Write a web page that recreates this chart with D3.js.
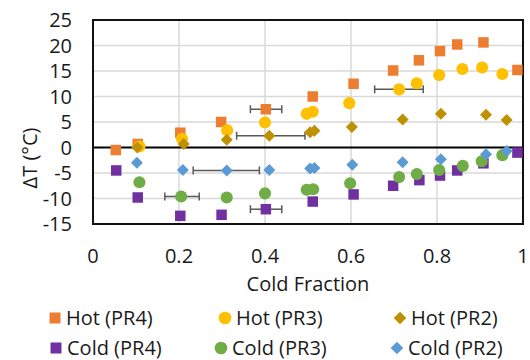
<!DOCTYPE html>
<html>
<head>
<meta charset="utf-8">
<script src="https://cdn.jsdelivr.net/npm/d3@7"></script>
<style>
  body { margin: 0; background: #fff; }
  text { font-family: "Open Sans", "Noto Sans", sans-serif; fill: #1a1a1a; }
</style>
</head>
<body>
<div id="grafico"></div>
<script>
// series: [cold fraction, delta T]
const hotPR4 = [[0.053,-0.5],[0.104,0.7],[0.203,2.9],[0.298,5.0],[0.402,7.5],[0.511,10.0],[0.606,12.5],[0.698,15.1],[0.758,17.1],[0.807,18.9],[0.847,20.2],[0.908,20.6],[0.987,15.2]];
const hotPR3 = [[0.108,0.2],[0.207,1.7],[0.312,3.4],[0.400,4.9],[0.497,6.6],[0.511,7.0],[0.596,8.7],[0.712,11.4],[0.753,12.6],[0.805,14.2],[0.859,15.4],[0.905,15.7],[0.952,14.4]];
const hotPR2 = [[0.103,0.0],[0.211,0.7],[0.311,1.5],[0.410,2.3],[0.505,3.0],[0.515,3.3],[0.602,4.0],[0.720,5.5],[0.809,6.6],[0.914,6.4],[0.962,5.4]];
const coldPR4 = [[0.054,-4.5],[0.104,-9.8],[0.203,-13.4],[0.299,-13.2],[0.402,-12.1],[0.511,-10.6],[0.606,-9.2],[0.698,-7.5],[0.759,-6.4],[0.807,-5.5],[0.847,-4.5],[0.908,-3.1],[0.987,-1.0]];
const coldPR3 = [[0.108,-6.8],[0.205,-9.6],[0.311,-9.8],[0.400,-9.0],[0.497,-8.3],[0.512,-8.2],[0.598,-7.0],[0.712,-5.8],[0.753,-5.2],[0.805,-4.4],[0.860,-3.6],[0.904,-2.7],[0.952,-1.5]];
const coldPR2 = [[0.102,-3.0],[0.209,-4.4],[0.311,-4.5],[0.410,-4.4],[0.505,-4.1],[0.515,-4.0],[0.603,-3.4],[0.720,-2.9],[0.809,-2.3],[0.914,-1.3],[0.962,-0.7]];

// horizontal error bars: [x, y, minus, plus]
const barrasErro = [[0.402,7.5,0.036,0.037],[0.402,-12.1,0.036,0.037],[0.410,2.3,0.076,0.083],[0.311,-4.5,0.078,0.076],[0.205,-9.6,0.038,0.042],[0.712,11.4,0.057,0.056]];

const xTicks = [0, 0.2, 0.4, 0.6, 0.8, 1];
const yTicks = [-15, -10, -5, 0, 5, 10, 15, 20, 25];

const series = [
  { nome: "Hot (PR4)", dados: hotPR4, cor: "#ED7D31", forma: "square" },
  { nome: "Hot (PR3)", dados: hotPR3, cor: "#FFC000", forma: "circle" },
  { nome: "Hot (PR2)", dados: hotPR2, cor: "#BF9000", forma: "diamond" },
  { nome: "Cold (PR4)", dados: coldPR4, cor: "#7030A0", forma: "square" },
  { nome: "Cold (PR3)", dados: coldPR3, cor: "#70AD47", forma: "circle" },
  { nome: "Cold (PR2)", dados: coldPR2, cor: "#5B9BD5", forma: "diamond" }
];

const largura = 530, altura = 360;
const m = { left: 93, right: 523, top: 20, bottom: 224 };

const svg = d3.select("#grafico").append("svg")
  .attr("width", largura).attr("height", altura);

const x = d3.scaleLinear().domain([0, 1]).range([m.left, m.right]);
const y = d3.scaleLinear().domain([-15, 25]).range([m.bottom, m.top]);

//grade
svg.append("g").selectAll("line").data(xTicks.slice(1, -1)).enter().append("line")
  .attr("x1", d => x(d)).attr("x2", d => x(d))
  .attr("y1", m.top).attr("y2", m.bottom)
  .attr("stroke", "#d9d9d9").attr("stroke-width", 1.5);
svg.append("g").selectAll("line").data(yTicks.filter(d => d !== 0)).enter().append("line")
  .attr("x1", m.left).attr("x2", m.right)
  .attr("y1", d => y(d)).attr("y2", d => y(d))
  .attr("stroke", "#d9d9d9").attr("stroke-width", 1.5);

// linha do zero
svg.append("line")
  .attr("x1", m.left).attr("x2", m.right)
  .attr("y1", y(0)).attr("y2", y(0))
  .attr("stroke", "#000").attr("stroke-width", 2);

// borda
svg.append("rect")
  .attr("x", m.left).attr("y", m.top)
  .attr("width", m.right - m.left).attr("height", m.bottom - m.top)
  .attr("fill", "none").attr("stroke", "#111").attr("stroke-width", 2);

// rotulos dos eixos
svg.append("g").selectAll("text").data(yTicks).enter().append("text")
  .attr("x", 72).attr("y", d => y(d)).attr("dy", "0.36em")
  .attr("text-anchor", "end").style("font-size", "20px")
  .text(d => d);
svg.append("g").selectAll("text").data(xTicks).enter().append("text")
  .attr("x", d => x(d)).attr("y", 263)
  .attr("text-anchor", "middle").style("font-size", "20px")
  .text(d => d);

svg.append("text")
  .attr("x", x(0.5)).attr("y", 291)
  .attr("text-anchor", "middle").style("font-size", "20px")
  .text("Cold Fraction");
svg.append("text")
  .attr("transform", "translate(37,158) rotate(-90)")
  .attr("text-anchor", "middle").style("font-size", "20px")
  .text("ΔT (°C)");

// barras de erro
const gErro = svg.append("g").attr("stroke", "#595959").attr("stroke-width", 1.5);
barrasErro.forEach(b => {
  const x1 = x(b[0] - b[2]), x2 = x(b[0] + b[3]), yy = y(b[1]);
  gErro.append("line").attr("x1", x1).attr("x2", x2).attr("y1", yy).attr("y2", yy);
  gErro.append("line").attr("x1", x1).attr("x2", x1).attr("y1", yy - 4).attr("y2", yy + 4);
  gErro.append("line").attr("x1", x2).attr("x2", x2).attr("y1", yy - 4).attr("y2", yy + 4);
});

function simbolo(forma, escala) {
  if (forma === "square") return d3.symbol().type(d3.symbolSquare).size(110 * escala)();
  if (forma === "circle") return d3.symbol().type(d3.symbolCircle).size(115 * escala)();
  return d3.symbol().type(d3.symbolSquare).size(72 * escala)();
}

// pontos
series.forEach(s => {
  svg.append("g").selectAll("path").data(s.dados).enter().append("path")
    .attr("d", simbolo(s.forma, 1))
    .attr("transform", d => `translate(${x(d[0])},${y(d[1])})` + (s.forma === "diamond" ? " rotate(45)" : ""))
    .attr("fill", s.cor);
});

// legenda
const colX = [[55, 225, 400], [56, 221, 397]];
const rowY = [318, 348];
series.forEach((s, i) => {
  const r = Math.floor(i / 3);
  const cx = colX[r][i % 3], cy = rowY[r];
  svg.append("path")
    .attr("d", simbolo(s.forma, 1.1))
    .attr("transform", `translate(${cx},${cy})` + (s.forma === "diamond" ? " rotate(45)" : ""))
    .attr("fill", s.cor);
  svg.append("text")
    .attr("x", cx + 11).attr("y", cy).attr("dy", "0.36em")
    .style("font-size", "20px")
    .text(s.nome);
});
</script>
</body>
</html>
